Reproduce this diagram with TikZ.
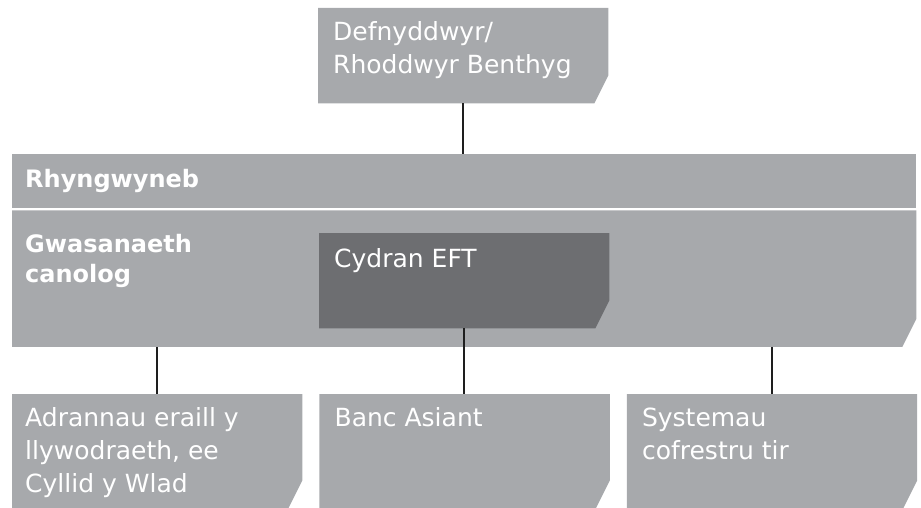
\documentclass[tikz,border=0pt]{standalone}
\usepackage{fontspec}
\setmainfont{DejaVu Sans}
\usetikzlibrary{positioning,backgrounds}
\definecolor{lightgrey}{RGB}{167,169,172}
\definecolor{darkgrey}{RGB}{109,110,113}
\definecolor{linegrey}{RGB}{30,30,30}

% lines of a label, baseline on the first one
\newcommand{\boxlines}[1]{\begin{tabular}[t]{@{}l@{}}#1\end{tabular}}

\tikzset{
  box/.style={draw=none,inner sep=0pt,minimum width=290pt,minimum height=95pt,anchor=north west},
  lbl/.style={text=white,inner sep=0pt,anchor=base west,font=\fontsize{25}{33}\selectfont},
  head/.style={lbl,font=\fontsize{24}{30}\selectfont\bfseries},
  link/.style={draw=linegrey,line width=2pt}
}

\begin{document}
\begin{tikzpicture}[x=1pt,y=-1pt]
  \useasboundingbox (0,0) rectangle (921,508);
  % boxes
  \node[box] (user) at (318,8) {};
  \node[box,minimum width=904pt,minimum height=54pt] (iface) at (12,154) {};
  \node[box,minimum width=904pt,minimum height=136pt,below right=2pt and 0pt of iface.south west] (core) {};
  \node[box] (eft) at (319,233) {};
  \node[box,minimum height=114pt] (b1) at (12,394) {};
  \node[box,minimum height=114pt,right=17pt of b1] (b2) {};
  \node[box,minimum height=114pt,right=17pt of b2] (b3) {};
  % shapes with the cut corner
  \begin{scope}[on background layer]
    \fill[lightgrey] (iface.north west) rectangle (iface.south east);
    \foreach \n/\c in {user/lightgrey,core/lightgrey,eft/darkgrey,b1/lightgrey,b2/lightgrey,b3/lightgrey}
      \fill[\c] (\n.north west) -- (\n.north east) -- ([yshift=28pt]\n.south east)
        -- ([xshift=-14pt]\n.south east) -- (\n.south west) -- cycle;
  \end{scope}
  % texts
  \node[lbl] at ([shift={(15pt,-33pt)}]user.north west) {\boxlines{Defnyddwyr/\\Rhoddwyr Benthyg}};
  \node[head] at ([shift={(13pt,-33pt)}]iface.north west) {Rhyngwyneb};
  \node[head] at ([shift={(13pt,-42pt)}]core.north west) {\boxlines{Gwasanaeth\\canolog}};
  \node[lbl] at ([shift={(15pt,-34pt)}]eft.north west) {Cydran EFT};
  \node[lbl] at ([shift={(13pt,-32pt)}]b1.north west) {\boxlines{Adrannau eraill y\\llywodraeth, ee\\Cyllid y Wlad}};
  \node[lbl] at ([shift={(15pt,-32pt)}]b2.north west) {Banc Asiant};
  \node[lbl] at ([shift={(15pt,-32pt)}]b3.north west) {\boxlines{Systemau\\cofrestru tir}};
  % connectors
  \draw[link] (user.south) -- (user.south |- iface.north);
  \draw[link] (eft.south) -- (eft.south |- b2.north);
  \draw[link] (b1.north |- core.south) -- (b1.north);
  \draw[link] (b3.north |- core.south) -- (b3.north);
\end{tikzpicture}
\end{document}
